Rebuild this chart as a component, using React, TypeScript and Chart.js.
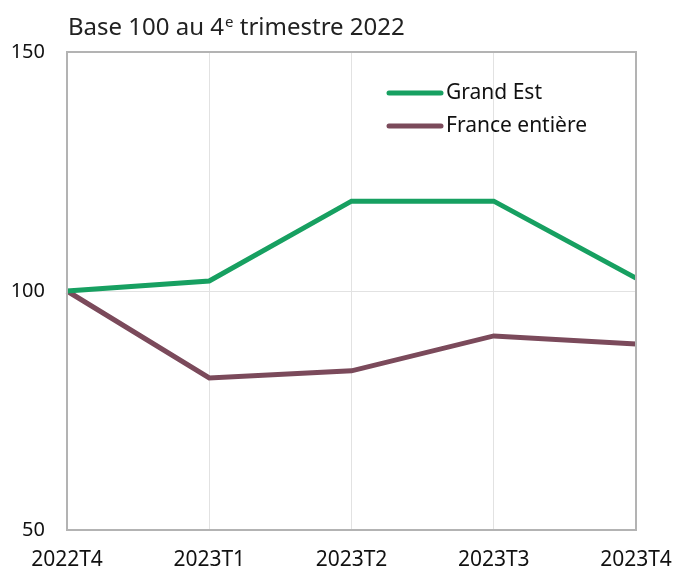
import React, { useEffect, useRef } from "react";
import { Chart, registerables } from "chart.js";

Chart.register(...registerables);

const categories = ["2022T4", "2023T1", "2023T2", "2023T3", "2023T4"];
const grandEst = [100, 102.1, 118.8, 118.8, 102.7];
const franceEntiere = [100, 81.8, 83.3, 90.6, 88.9];
const yTicks = [50, 100, 150];
const seriesNames = ["Grand Est", "France entière"];
const titleParts = ["Base 100 au 4", "e", " trimestre 2022"];

const FONT = "'Noto Sans', sans-serif";

const framePlugin = {
  id: "frame",
  afterDraw(chart: any) {
    const { ctx, chartArea: a } = chart;
    ctx.save();
    ctx.strokeStyle = "#b3b3b3";
    ctx.lineWidth = 2;
    ctx.strokeRect(a.left, a.top, a.right - a.left, a.bottom - a.top);
    // title
    ctx.fillStyle = "#222";
    ctx.textBaseline = "alphabetic";
    ctx.textAlign = "left";
    let x = a.left + 1;
    const y = 35;
    ctx.font = `24px ${FONT}`;
    ctx.fillText(titleParts[0], x, y);
    x += ctx.measureText(titleParts[0]).width + 1;
    ctx.font = `15px ${FONT}`;
    ctx.fillText(titleParts[1], x, y - 8);
    x += ctx.measureText(titleParts[1]).width;
    ctx.font = `24px ${FONT}`;
    ctx.fillText(titleParts[2], x, y);
    // legend
    const ds = chart.data.datasets;
    ds.forEach((d: any, i: number) => {
      const ly = 93 + i * 33;
      ctx.strokeStyle = d.borderColor;
      ctx.lineWidth = 5;
      ctx.lineCap = "round";
      ctx.beginPath();
      ctx.moveTo(389, ly);
      ctx.lineTo(441, ly);
      ctx.stroke();
      ctx.fillStyle = "#111";
      ctx.font = `21px ${FONT}`;
      ctx.textBaseline = "middle";
      ctx.fillText(d.label, 446, ly);
    });
    ctx.restore();
  },
};

export default function App() {
  const ref = useRef<HTMLCanvasElement>(null);
  useEffect(() => {
    const chart = new Chart(ref.current!, {
      type: "line",
      data: {
        labels: categories,
        datasets: [
          {
            label: seriesNames[0],
            data: grandEst,
            borderColor: "#17a061",
            borderWidth: 5,
            pointRadius: 0,
            tension: 0,
          },
          {
            label: seriesNames[1],
            data: franceEntiere,
            borderColor: "#7b4a5b",
            borderWidth: 5,
            pointRadius: 0,
            tension: 0,
          },
        ],
      },
      options: {
        animation: false,
        responsive: false,
        maintainAspectRatio: false,
        layout: { padding: { top: 52, right: 0, bottom: 0, left: 0 } },
        plugins: { legend: { display: false }, tooltip: { enabled: false } },
        scales: {
          x: {
            offset: false,
            afterFit(scale: any) {
              scale.height = 37;
              scale.paddingRight = 40;
              scale.paddingLeft = 0;
            },
            grid: { color: "#e2e2e2", lineWidth: 1, drawTicks: false },
            border: { display: false },
            ticks: {
              color: "#111",
              font: { family: FONT, size: 21 },
              padding: 17,
              maxRotation: 0,
              autoSkip: false,
            },
          },
          y: {
            min: 50,
            max: 150,
            afterBuildTicks(scale: any) {
              scale.ticks = yTicks.map((v) => ({ value: v }));
            },
            afterFit(scale: any) {
              scale.width = 67;
            },
            grid: { color: "#e2e2e2", lineWidth: 1, drawTicks: false },
            border: { display: false },
            ticks: {
              color: "#111",
              font: { family: FONT, size: 20 },
              padding: 22,
            },
          },
        },
      },
      plugins: [framePlugin],
    });
    return () => chart.destroy();
  }, []);
  return (
    <div style={{ position: "fixed", left: 0, top: 0, width: 676, height: 567, background: "#fff" }}>
      <canvas ref={ref} width={676} height={567} style={{ width: 676, height: 567 }} />
    </div>
  );
}
